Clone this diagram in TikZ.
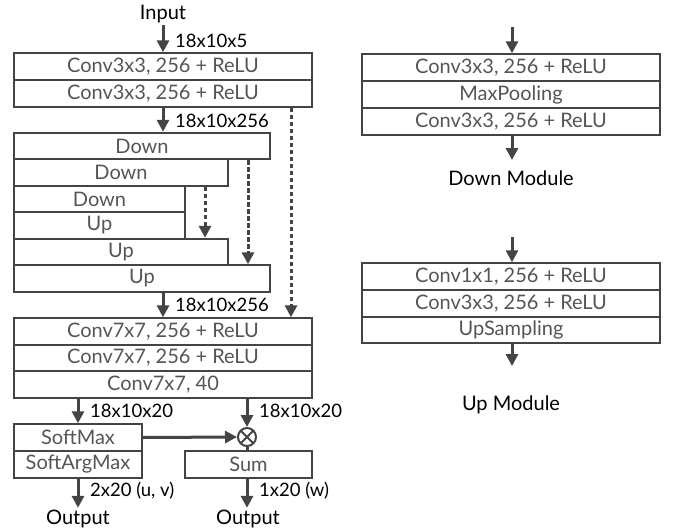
\documentclass[tikz,border=0pt]{standalone}
\usepackage{fontspec}
\setmainfont{Lato}
\usetikzlibrary{arrows.meta}
\definecolor{ln}{HTML}{444444}
\definecolor{tx}{HTML}{555555}
\begin{document}
\begin{tikzpicture}[x=1pt,y=-1pt,
  blk/.style={draw=ln, line width=2pt, fill=white, text=tx, inner sep=0pt,
    font=\fontsize{20}{22}\selectfont, minimum height=26.5pt},
  arr/.style={draw=ln, line width=3pt, -{Triangle[length=12pt,width=12pt]}},
  darr/.style={arr, dash pattern=on 4.5pt off 2.5pt},
  plainln/.style={draw=ln, line width=3pt},
  lbl/.style={font=\fontsize{18.5}{20}\selectfont, text=black, inner sep=0pt},
  captxt/.style={font=\fontsize{20}{22}\selectfont, text=black, inner sep=2pt},
  otimes/.style={circle, draw=ln, line width=2pt, fill=white, minimum size=18pt, inner sep=0pt,
    path picture={\draw[ln, line width=2pt]
      (path picture bounding box.north west) -- (path picture bounding box.south east)
      (path picture bounding box.north east) -- (path picture bounding box.south west);}}]
\useasboundingbox (0,0) rectangle (678,531);

% left column
\node[captxt] (in) at (163,14) {Input};
\node[blk, minimum width=298pt] (c1) at (163,66.5) {Conv3x3, 256 + ReLU};
\node[blk, minimum width=298pt] (c2) at (163,93.5) {Conv3x3, 256 + ReLU};
\node[blk, minimum width=256pt] (d1) at (142,146) {Down};
\node[blk, minimum width=214pt] (d2) at (121,172.5) {Down};
\node[blk, minimum width=171pt] (d3) at (99.5,199) {Down};
\node[blk, minimum width=171pt] (u1) at (99.5,225.5) {Up};
\node[blk, minimum width=214pt] (u2) at (121,252) {Up};
\node[blk, minimum width=256pt] (u3) at (142,278.5) {Up};
\node[blk, minimum width=298pt] (e1) at (163,331.5) {Conv7x7, 256 + ReLU};
\node[blk, minimum width=298pt] (e2) at (163,358) {Conv7x7, 256 + ReLU};
\node[blk, minimum width=298pt] (e3) at (163,384.5) {Conv7x7, 40};
\node[blk, minimum width=128pt] (sm) at (78,437.5) {SoftMax};
\node[blk, minimum width=128pt] (sa) at (78,464.5) {SoftArgMax};
\node[blk, minimum width=127pt] (sum) at (248.5,464.5) {Sum};
\node[otimes] (ot) at (247,437) {};
\node[captxt] (o1) at (78,519) {Output};
\node[captxt] (o2) at (248,519) {Output};

\coordinate (xa) at (163,0);
\coordinate (xs1) at (205,0);
\coordinate (xs2) at (248,0);
\coordinate (xs3) at (291,0);
\coordinate (xb) at (78,0);
\coordinate (xc) at (247,0);

\draw[arr] (in.south) -- (c1.north);
\node[lbl, anchor=west] (l1) at (175,41) {18x10x5};
\draw[arr] (c2.south) -- (d1.north -| xa);
\node[lbl, anchor=west] (l2) at (175,121) {18x10x256};
\draw[darr] (d2.south -| xs1) -- (u2.north -| xs1);
\draw[darr] (d1.south -| xs2) -- (u3.north -| xs2);
\draw[darr] (c2.south -| xs3) -- (e1.north -| xs3);
\draw[arr] (u3.south -| xa) -- (e1.north -| xa);
\node[lbl, anchor=west] (l3) at (175,305) {18x10x256};

\draw[arr] (e3.south -| xb) -- (sm.north);
\node[lbl, anchor=west] (l4) at (90,411) {18x10x20};
\draw[arr] (e3.south -| xc) -- (ot.north);
\node[lbl, anchor=west] (l5) at (259,411) {18x10x20};
\draw[arr] (sm.east) -- (ot.west);
\draw[plainln] (ot.south) -- (sum.north -| ot);
\draw[arr] (sa.south) -- (o1.north);
\node[lbl, anchor=west] (l6) at (90,491) {2x20 (u, v)};
\draw[arr] (sum.south -| xc) -- (o2.north -| xc);
\node[lbl, anchor=west] (l7) at (259,491) {1x20 (w)};

% right column: Down module
\coordinate (dt) at (512,27);
\coordinate (db) at (512,160);
\node[blk, minimum width=298pt] (m1) at (511,67.5) {Conv3x3, 256 + ReLU};
\node[blk, minimum width=298pt] (m2) at (511,94.5) {MaxPooling};
\node[blk, minimum width=298pt] (m3) at (511,121.5) {Conv3x3, 256 + ReLU};
\draw[arr] (dt) -- (m1.north -| dt);
\draw[arr] (m3.south -| db) -- (db);
\node[captxt] (dmod) at (511,178) {Down Module};

% right column: Up module
\coordinate (ut) at (512,237);
\coordinate (ub) at (512,366);
\node[blk, minimum width=298pt] (n1) at (511,276.5) {Conv1x1, 256 + ReLU};
\node[blk, minimum width=298pt] (n2) at (511,303.5) {Conv3x3, 256 + ReLU};
\node[blk, minimum width=298pt] (n3) at (511,330) {UpSampling};
\draw[arr] (ut) -- (n1.north -| ut);
\draw[arr] (n3.south -| ub) -- (ub);
\node[captxt] (umod) at (511,405) {Up Module};
\end{tikzpicture}
\end{document}
